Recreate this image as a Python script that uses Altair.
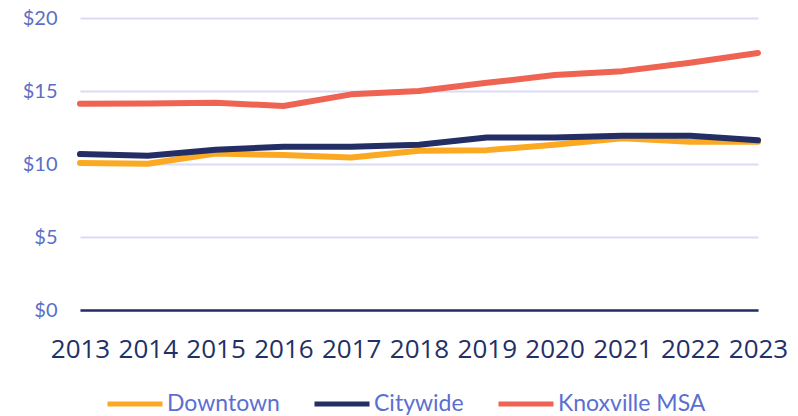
import altair as alt
import pandas as pd

years = [2013, 2014, 2015, 2016, 2017, 2018, 2019, 2020, 2021, 2022, 2023]
downtown = [10.07, 10.02, 10.72, 10.61, 10.45, 10.90, 10.95, 11.32, 11.77, 11.52, 11.52]
citywide = [10.68, 10.57, 10.98, 11.18, 11.18, 11.32, 11.82, 11.82, 11.93, 11.93, 11.63]
knoxville = [14.13, 14.15, 14.20, 13.97, 14.77, 15.00, 15.56, 16.09, 16.36, 16.93, 17.60]
series_names = ["Downtown", "Citywide", "Knoxville MSA"]
series_colors = ["#FBA922", "#222E64", "#EE6352"]

rows = []
for name, vals in zip(series_names, [downtown, citywide, knoxville]):
    for y, v in zip(years, vals):
        rows.append({"year": y, "value": v, "series": name})
df = pd.DataFrame(rows)

chart = alt.Chart(df).mark_line(strokeWidth=6, strokeCap="round", strokeJoin="round").encode(
    x=alt.X("year:O", scale=alt.Scale(padding=0),
            axis=alt.Axis(title=None, labelAngle=0, ticks=False, domain=True,
                          domainColor="#233066", domainWidth=2.5,
                          labelFont="Open Sans", labelFontSize=26, labelColor="#233066",
                          labelPadding=26, grid=False)),
    y=alt.Y("value:Q", scale=alt.Scale(domain=[0, 20], nice=False),
            axis=alt.Axis(title=None, values=[0, 5, 10, 15, 20], labelExpr="'$' + datum.value",
                          ticks=False, domain=False, grid=True, gridColor="#D9DCF2", gridWidth=2,
                          labelFont="Lato", labelFontSize=20, labelColor="#5B6FC4", labelPadding=23)),
    color=alt.Color("series:N", sort=series_names,
                    scale=alt.Scale(domain=series_names, range=series_colors),
                    legend=alt.Legend(title=None, orient="none", direction="horizontal",
                                      legendX=25, legendY=356,
                                      symbolType="stroke", symbolSize=3025, symbolStrokeWidth=5,
                                      labelFont="Lato", labelFontSize=23, labelColor="#5B6FD0",
                                      labelOffset=2, columnPadding=24, labelLimit=300)),
).properties(
    width=678, height=292,
    autosize=alt.AutoSizeParams(type="none"),
    padding={"left": 72, "top": 10, "right": 30, "bottom": 106},
).configure_view(stroke=None)

chart.save("out.html", embed_options={"renderer": "svg", "actions": False})
